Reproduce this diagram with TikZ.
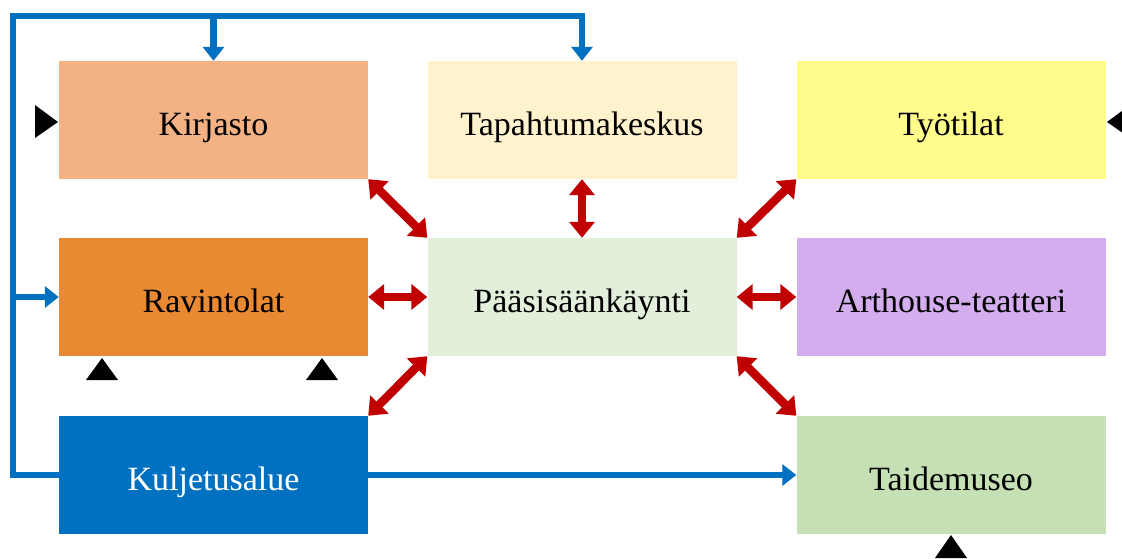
\documentclass[tikz,border=0pt]{standalone}
\usepackage{fontspec}
\setmainfont{Liberation Serif}
\usetikzlibrary{arrows.meta}
\definecolor{ckir}{HTML}{F4B183}
\definecolor{ctap}{HTML}{FFF2CC}
\definecolor{ctyo}{HTML}{FFFC8C}
\definecolor{crav}{HTML}{E98A32}
\definecolor{cpaa}{HTML}{E2EFDA}
\definecolor{cart}{HTML}{D4ADEE}
\definecolor{ckul}{HTML}{0070C0}
\definecolor{ctai}{HTML}{C5E0B4}
\definecolor{cred}{HTML}{C00000}
\tikzset{
  box/.style={minimum width=309pt, minimum height=118pt, inner sep=0pt, draw=none,
    text height=30pt, text depth=0pt,
    font=\fontsize{34}{38}\selectfont},
  redarrow/.style={draw=cred, line width=8.5pt, {Triangle[length=16pt,width=25pt]}-{Triangle[length=16pt,width=25pt]}},
  bline/.style={draw=ckul, line width=6.5pt, line join=miter},
  barrow/.style={bline, -{Triangle[length=14pt,width=21pt]}},
  marker/.style={fill=black}
}
\begin{document}
\begin{tikzpicture}[x=1pt,y=-1pt]
\useasboundingbox (0,0) rectangle (1122,558);
\node[box, fill=ckir] (kir) at (213.5,120) {Kirjasto};
\node[box, fill=ctap] (tap) at (582,120) {Tapahtumakeskus};
\node[box, fill=ctyo] (tyo) at (951,120) {Työtilat};
\node[box, fill=crav] (rav) at (213.5,297) {Ravintolat};
\node[box, fill=cpaa] (paa) at (582,297) {Pääsisäänkäynti};
\node[box, fill=cart] (art) at (951,297) {Arthouse-teatteri};
\node[box, fill=ckul, text=white] (kul) at (213.5,475) {Kuljetusalue};
\node[box, fill=ctai] (tai) at (951,475) {Taidemuseo};
% red connectors
\draw[redarrow] (kir.south east) -- (paa.north west);
\draw[redarrow] (tap.south) -- (paa.north);
\draw[redarrow] (tyo.south west) -- (paa.north east);
\draw[redarrow] (rav.east) -- (paa.west);
\draw[redarrow] (paa.east) -- (art.west);
\draw[redarrow] (paa.south west) -- (kul.north east);
\draw[redarrow] (paa.south east) -- (tai.north west);
% blue connectors
\coordinate (lb) at (13,475);
\coordinate (lt) at (13,16);
\draw[barrow] (kul.west) -- (lb) -- (lt) -- (tap.north |- lt) -- (tap.north);
\draw[barrow] (kir.north |- lt) -- (kir.north);
\draw[barrow] (lb |- rav.west) -- (rav.west);
\draw[barrow] (kul.east) -- (tai.west);
% black markers
\fill[marker] (58,122) -- (35,105) -- (35,138) -- cycle;
\fill[marker] (1107,122) -- (1130,105) -- (1130,138) -- cycle;
\fill[marker] (102,358) -- (86,380) -- (118,380) -- cycle;
\fill[marker] (322,358) -- (306,380) -- (338,380) -- cycle;
\fill[marker] (951,535) -- (935,558) -- (967,558) -- cycle;
\end{tikzpicture}
\end{document}
